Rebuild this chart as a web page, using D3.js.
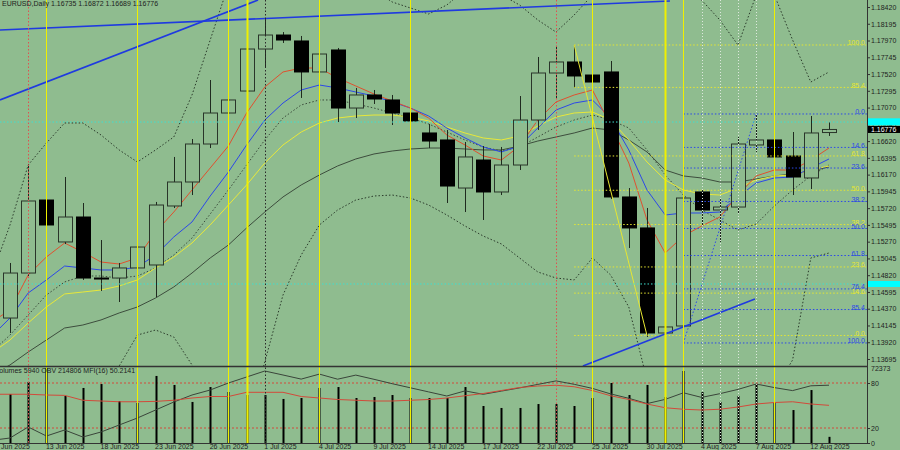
<!DOCTYPE html>
<html><head><meta charset="utf-8">
<script src="https://cdn.jsdelivr.net/npm/d3@7"></script>
<style>
body{margin:0;background:#8FBC8F}
svg{display:block}
text{font-family:"Liberation Sans",Arial,sans-serif;font-size:7px;fill:#1e1e1e}
</style></head>
<body><svg id="c" width="900" height="450"></svg>
<script>
// ---------- DATA ----------
const title = "EURUSD,Daily  1.16735 1.16872 1.16689 1.16776";
const volTitle = "Volumes 5940  OBV 214806  MFI(16) 50.2141";
// candles: bars 0..45 (11 Jun .. 13 Aug 2025)
const open  = [1.14245,1.14849,1.15829,1.15266,1.15601,1.14782,1.14782,1.14917,1.14957,1.15749,1.16071,1.16581,1.16997,1.17292,1.17856,1.18044,1.17964,1.17548,1.17843,1.17064,1.17239,1.17172,1.16997,1.16729,1.16635,1.15990,1.16366,1.15937,1.16299,1.16903,1.17534,1.17682,1.17507,1.17548,1.15870,1.15454,1.14044,1.14138,1.15937,1.15695,1.15735,1.16568,1.16635,1.16420,1.16125,1.16735];
const high  = [1.14984,1.16313,1.16138,1.16138,1.15789,1.15292,1.14984,1.15427,1.15803,1.16407,1.16648,1.17440,1.17534,1.18044,1.18272,1.18084,1.18031,1.17910,1.17870,1.17333,1.17306,1.17239,1.17118,1.16850,1.16769,1.16608,1.16554,1.16541,1.17225,1.17749,1.17897,1.17910,1.17601,1.17695,1.15990,1.15722,1.14594,1.15964,1.15977,1.15856,1.16675,1.16984,1.16782,1.16742,1.16957,1.16872];
const low   = [1.14044,1.14809,1.14890,1.15239,1.14756,1.14608,1.14460,1.14890,1.14527,1.15722,1.15896,1.16527,1.16809,1.17078,1.17601,1.17937,1.17199,1.17413,1.16876,1.16930,1.17118,1.16836,1.16702,1.16527,1.15789,1.15668,1.15561,1.15896,1.16232,1.16769,1.17199,1.17333,1.17037,1.15843,1.15185,1.13990,1.14017,1.13910,1.15494,1.15266,1.15655,1.16474,1.16286,1.15896,1.15977,1.16689];
const close = [1.14849,1.15816,1.15494,1.15601,1.14782,1.14778,1.14917,1.15198,1.15762,1.16071,1.16581,1.16997,1.17172,1.17856,1.18044,1.17977,1.17548,1.17789,1.17064,1.17239,1.17185,1.16997,1.16890,1.16621,1.16017,1.16407,1.15937,1.16299,1.16903,1.17534,1.17682,1.17494,1.17413,1.15870,1.15454,1.14044,1.14125,1.15856,1.15695,1.15735,1.16581,1.16635,1.16407,1.16138,1.16729,1.16776];
// indicator lines: bars -1..45 (first value is the bar just left of the window)
const maRed    = [1.14192,1.14353,1.14823,1.15064,1.15252,1.15131,1.14997,1.14970,1.15051,1.15400,1.15668,1.15964,1.16259,1.16554,1.16997,1.17346,1.17548,1.17601,1.17601,1.17467,1.17360,1.17252,1.17158,1.17064,1.16930,1.16702,1.16568,1.16420,1.16366,1.16554,1.16903,1.17145,1.17239,1.17306,1.16836,1.16326,1.15561,1.15118,1.15346,1.15480,1.15601,1.15896,1.16152,1.16232,1.16232,1.16366,1.16527];
const maBlue   = [1.14004,1.14245,1.14581,1.14756,1.14943,1.14917,1.14890,1.14890,1.14930,1.15091,1.15333,1.15534,1.15883,1.16205,1.16568,1.16903,1.17131,1.17306,1.17373,1.17333,1.17279,1.17225,1.17145,1.17064,1.16957,1.16796,1.16662,1.16541,1.16474,1.16554,1.16796,1.17037,1.17131,1.17172,1.16930,1.16501,1.15964,1.15628,1.15655,1.15655,1.15668,1.15870,1.16058,1.16125,1.16138,1.16259,1.16380];
const maYellow = [1.13776,1.13950,1.14178,1.14393,1.14568,1.14594,1.14621,1.14675,1.14756,1.14917,1.15064,1.15252,1.15494,1.15762,1.16031,1.16326,1.16568,1.16742,1.16863,1.16930,1.16957,1.16970,1.16970,1.16943,1.16890,1.16809,1.16729,1.16662,1.16635,1.16688,1.16823,1.16943,1.16997,1.17011,1.16903,1.16635,1.16339,1.16098,1.15964,1.15910,1.15896,1.15990,1.16098,1.16152,1.16165,1.16232,1.16286];
const maGray   = [1.13480,1.13615,1.13789,1.13950,1.14111,1.14151,1.14219,1.14313,1.14393,1.14514,1.14662,1.14849,1.15051,1.15225,1.15454,1.15668,1.15870,1.16031,1.16165,1.16286,1.16380,1.16447,1.16487,1.16514,1.16527,1.16527,1.16514,1.16501,1.16501,1.16554,1.16621,1.16675,1.16729,1.16796,1.16769,1.16635,1.16474,1.16232,1.16152,1.16125,1.16071,1.16071,1.16111,1.16152,1.16178,1.16219,1.16272];
const bandUpper = [1.14823,1.15494,1.16299,1.16594,1.16863,1.16863,1.16702,1.16501,1.16339,1.16501,1.16675,1.17239,1.17977,1.18715,1.19051,1.19319,1.19454,1.19319,1.19185,1.18984,1.18782,1.18648,1.18487,1.18407,1.18326,1.18447,1.18648,1.18715,1.18581,1.18447,1.18246,1.18084,1.18313,1.18581,1.19051,1.19319,1.19185,1.18917,1.18648,1.18514,1.18246,1.17910,1.18581,1.18581,1.17977,1.17413,1.17548];
const bandLower = [1.13078,1.13010,1.12876,1.12943,1.13145,1.13346,1.13480,1.13601,1.14017,1.14084,1.13990,1.13615,1.13145,1.12742,1.12742,1.13655,1.14554,1.15091,1.15494,1.15695,1.15829,1.15883,1.15896,1.15856,1.15762,1.15628,1.15480,1.15346,1.15239,1.15051,1.14863,1.14782,1.14756,1.15051,1.14823,1.14393,1.13413,1.12876,1.12608,1.12608,1.12742,1.12876,1.13010,1.13279,1.13682,1.15051,1.15118];
const bandMid   = [1.13789,1.14017,1.14286,1.14554,1.14729,1.14809,1.14809,1.14782,1.14809,1.14917,1.15091,1.15319,1.15641,1.15964,1.16299,1.16635,1.16930,1.17105,1.17172,1.17172,1.17118,1.17064,1.16997,1.16930,1.16850,1.16742,1.16635,1.16541,1.16487,1.16541,1.16675,1.16809,1.16903,1.16970,1.16903,1.16796,1.16501,1.16165,1.15896,1.15695,1.15561,1.15427,1.15507,1.15749,1.15964,1.16152,1.16299];
const obv = [-370000,-344900,-228300,-323700,-260100,-334300,-281300,-207100,-132900,-48100,36700,110900,163900,238100,301700,365300,322900,279500,332500,278400,321900,277300,230700,187200,143800,100300,154400,118300,152300,186200,223300,260400,224300,180900,122600,75900,19800,64300,134200,85500,124700,170300,227500,189400,157600,208400,214806];
const mfi = [65,65,65,64,63.5,57,56,55,55,55.5,57,60,62,62,67.6,67.6,67.6,62,60,58,57,56,56,57,58,60,63,66,70,74,76,77,75,70,63,58,52,47,45,44,45,48,52,54,55,52,50.2141];
// volume histogram: bars 0..45
const volumes = [47300,58900,72373,45400,53100,56900,40500,38600,64700,56000,39600,54000,49200,46300,46300,42500,43400,53100,54000,43400,44400,46300,43400,43400,43400,54000,35700,33800,33800,37600,37600,35700,43400,57900,46300,56000,44400,69500,49200,39600,45400,56900,38600,31800,51100,5940];
const priceTicks = [1.18420,1.18195,1.17970,1.17745,1.17520,1.17295,1.17070,1.16845,1.16620,1.16395,1.16170,1.15945,1.15720,1.15495,1.15270,1.15045,1.14820,1.14595,1.14370,1.14145,1.13920,1.13695];
const dateTicks = ["10 Jun 2025","13 Jun 2025","18 Jun 2025","23 Jun 2025","26 Jun 2025","1 Jul 2025","4 Jul 2025","9 Jul 2025","14 Jul 2025","17 Jul 2025","22 Jul 2025","25 Jul 2025","30 Jul 2025","4 Aug 2025","7 Aug 2025","12 Aug 2025"];
const dateTickIdx = [-1,2,5,8,11,14,17,20,23,26,29,32,35,38,41,44];
// annotations (bar index / price anchors)
const yellowVLines = [2,7,12,17,22,32,37,42];
const yellowVThick = [13,36];
const redVLines = [1,30];
const darkVLines = [14];
const whiteVLines = [38,39,40,41];
const cyanLevels = [1.16876,1.14702];
const trendLines = [[-0.55,1.18111,36.26,1.18501],[-0.55,1.17172,13.63,1.18514],[31.48,1.13601,40.93,1.14500]];
const fibBlueLevels = [0,14.6,23.6,38.2,50,61.8,76.4,85.4,100];
const fibYellowLevels = [0,14.6,23.6,38.2,50,61.8,85.4,100];
const fibYellow = {i100:31,p100:1.17910,i0:35,p0:1.14010};
const fibBlue   = {i100:37,p100:1.13910,i0:41,p0:1.16984};
const currentPrice = 1.16776, cyanBoxPrice = 1.16872, cyanBox2Price = 1.14702;
const mfiLevels = [80,20];
const volMax = 72373;

// ---------- LAYOUT ----------
const svg = d3.select("#c");
const R = 867, mainB = 366, vTop = 368, vBot = 443;
const x = d3.scaleLinear().domain([0,45]).range([10,829]);
const y = d3.scaleLinear().domain([1.13601,1.18514]).range([mainB,0]);
const yv = d3.scaleLinear().domain([0,volMax]).range([vBot,vTop]);
const ym = d3.scaleLinear().domain([0,100]).range([vBot,vTop]);
const yo = d3.scaleLinear().domain([-397900,397100]).range([vBot,vTop]);
const idx = d3.range(open.length);
const lx = (d,i)=>x(i-1); // indicator arrays start at bar -1

svg.append("rect").attr("width",900).attr("height",450).attr("fill","#8FBC8F");
const defs = svg.append("defs");
defs.append("clipPath").attr("id","cm").append("rect").attr("x",0).attr("y",0).attr("width",R).attr("height",mainB);
defs.append("clipPath").attr("id","cv").append("rect").attr("x",0).attr("y",mainB+1).attr("width",R).attr("height",vBot-mainB-1);
defs.append("clipPath").attr("id","ca").append("rect").attr("x",0).attr("y",0).attr("width",R).attr("height",vBot);

const gm = svg.append("g").attr("clip-path","url(#cm)");
const gv = svg.append("g").attr("clip-path","url(#cv)");
const ga = svg.append("g").attr("clip-path","url(#ca)");

// indicator lines (main)
const line = arr => d3.line().x(lx).y(d=>y(d))(arr);
[[bandUpper,"#2b3b2b"],[bandLower,"#2b3b2b"],[bandMid,"#3b4b3b"]].forEach(([a,c])=>
  gm.append("path").attr("d",line(a)).attr("fill","none").attr("stroke",c).attr("stroke-width",1).attr("stroke-dasharray","1.5,2"));
[[maGray,"#3d4d3d"],[maYellow,"#e8e83a"],[maBlue,"#2c48e8"],[maRed,"#e0502e"]].forEach(([a,c])=>
  gm.append("path").attr("d",line(a)).attr("fill","none").attr("stroke",c).attr("stroke-width",1));

// candles
const cg = gm.append("g");
idx.forEach(i=>{
  const cx = Math.round(x(i))+0.5;
  cg.append("line").attr("x1",cx).attr("x2",cx).attr("y1",y(high[i])).attr("y2",y(low[i])).attr("stroke","#1f2a1f").attr("stroke-width",1);
  const top = y(Math.max(open[i],close[i])), bot = y(Math.min(open[i],close[i]));
  const bull = close[i] >= open[i];
  cg.append("rect").attr("x",cx-7).attr("y",top).attr("width",14).attr("height",Math.max(bot-top,1))
    .attr("fill",bull?"#8FBC8F":"#000").attr("stroke",bull?"#2a352a":"#000").attr("stroke-width",1);
});

// fib levels
function fib(f, levels, color, diagDash){
  const xs = x(Math.min(f.i0, f.i100));
  levels.forEach(L=>{
    const p = f.p0 + (f.p100 - f.p0)*L/100;
    gm.append("line").attr("x1",xs).attr("x2",R).attr("y1",y(p)).attr("y2",y(p))
      .attr("stroke",color).attr("stroke-width",1).attr("stroke-dasharray","1.5,2");
    svg.append("text").attr("x",R-2).attr("y",y(p)+0.5).attr("text-anchor","end")
      .style("fill",color).text(L.toFixed(1));
  });
  gm.append("line").attr("x1",x(f.i100)).attr("y1",y(f.p100)).attr("x2",x(f.i0)).attr("y2",y(f.p0))
    .attr("stroke",color).attr("stroke-width",1).attr("stroke-dasharray",diagDash);
}
fib(fibYellow, fibYellowLevels, "#e6e632", null);
fib(fibBlue, fibBlueLevels, "#2c48e8", "1.5,2");

// cyan horizontals
cyanLevels.forEach(p=> gm.append("line").attr("x1",0).attr("x2",R).attr("y1",y(p)).attr("y2",y(p))
  .attr("stroke","#3fe0d0").attr("stroke-width",1).attr("stroke-dasharray","1.5,2"));

// trend lines
trendLines.forEach(t=> gm.append("line").attr("x1",x(t[0])).attr("y1",y(t[1])).attr("x2",x(t[2])).attr("y2",y(t[3]))
  .attr("stroke","#1f3ae0").attr("stroke-width",1.6));

// volume panel
gv.append("g").selectAll("line").data(mfiLevels).join("line")
  .attr("x1",0).attr("x2",R).attr("y1",d=>ym(d)).attr("y2",d=>ym(d))
  .attr("stroke","#d24a3a").attr("stroke-dasharray","2,2");
gv.append("g").selectAll("rect").data(idx).join("rect")
  .attr("x",i=>Math.round(x(i))-0.5).attr("width",2).attr("y",i=>yv(volumes[i])).attr("height",i=>vBot-yv(volumes[i])).attr("fill","#000");
gv.append("path").attr("d",d3.line().x(lx).y(d=>yo(d))(obv)).attr("fill","none").attr("stroke","#3a453a").attr("stroke-width",1);
gv.append("path").attr("d",d3.line().x(lx).y(d=>ym(d))(mfi)).attr("fill","none").attr("stroke","#d24a3a").attr("stroke-width",1);

// vertical lines (both panels)
const vl = (list,color,w,dash)=> list.forEach(i=> ga.append("line").attr("x1",Math.round(x(i))+0.5).attr("x2",Math.round(x(i))+0.5)
   .attr("y1",0).attr("y2",vBot).attr("stroke",color).attr("stroke-width",w).attr("stroke-dasharray",dash));
vl(yellowVLines,"#f0f000",1,null);
vl(yellowVThick,"#f0f000",2,null);
vl(redVLines,"#e05050",1,"1.5,2");
vl(darkVLines,"#2a2a2a",1,"1.5,2");
vl(whiteVLines,"#dde8dd",1,"1,2");

// separators & axes
svg.append("line").attr("x1",0).attr("x2",R).attr("y1",mainB+0.5).attr("y2",mainB+0.5).attr("stroke","#333").attr("stroke-width",1.5);
svg.append("line").attr("x1",0).attr("x2",R).attr("y1",vBot+0.5).attr("y2",vBot+0.5).attr("stroke","#333");
svg.append("line").attr("x1",R+0.5).attr("x2",R+0.5).attr("y1",0).attr("y2",vBot+1).attr("stroke","#333");

const ay = svg.append("g").attr("transform",`translate(${R},0)`)
  .call(d3.axisRight(y).tickValues(priceTicks).tickFormat(d3.format(".5f")).tickSize(3).tickPadding(1));
ay.select(".domain").remove();
ay.selectAll("line").attr("stroke","#333");

const av = svg.append("g").attr("transform",`translate(${R},0)`)
  .call(d3.axisRight(ym).tickValues([0,20,80]).tickSize(3).tickPadding(1));
av.select(".domain").remove();
av.selectAll("line").attr("stroke","#333");
svg.append("text").attr("x",R+4).attr("y",yv(volMax)+2.5).text(String(volMax));

const ax = svg.append("g").attr("transform",`translate(0,${vBot})`)
  .call(d3.axisBottom(x).tickValues(dateTickIdx).tickFormat((d,i)=>dateTicks[i]).tickSize(0).tickPadding(1));
ax.select(".domain").remove();
ax.selectAll("text").attr("text-anchor","start").attr("dx",-1);
svg.selectAll(".tick text").style("font-size","7px").attr("fill","#1e1e1e");

// price boxes
svg.append("rect").attr("x",R+1).attr("y",y(cyanBoxPrice)-4).attr("width",33).attr("height",7).attr("fill","#00ffff");
svg.append("rect").attr("x",R+1).attr("y",y(cyanBox2Price)-3).attr("width",33).attr("height",6).attr("fill","#00ffff");
svg.append("rect").attr("x",R+1).attr("y",y(currentPrice)-3.5).attr("width",33).attr("height",7).attr("fill","#000");
svg.append("text").attr("x",R+4).attr("y",y(currentPrice)+2.5).style("fill","#fff").text(currentPrice.toFixed(5));

// titles
svg.append("text").attr("x",2).attr("y",6).text(title);
svg.append("text").attr("x",-5).attr("y",373).text(volTitle);
</script></body></html>
